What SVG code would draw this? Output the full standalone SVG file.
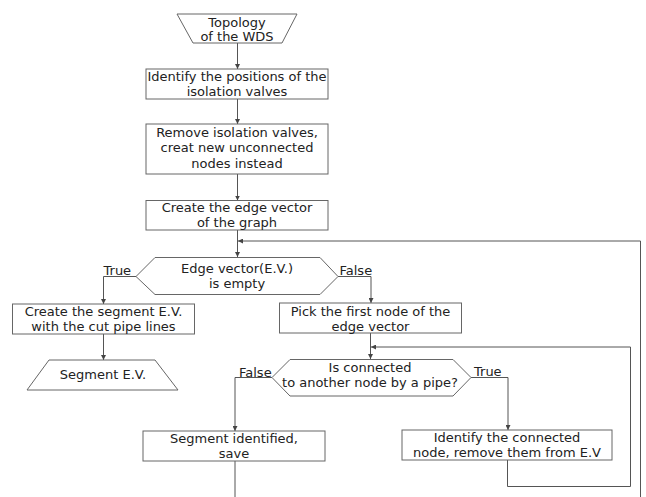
<svg xmlns="http://www.w3.org/2000/svg" width="646" height="497" viewBox="0 0 646 497">
<defs>
<marker id="ah" viewBox="0 0 8 8" refX="8" refY="4" markerWidth="5" markerHeight="5" orient="auto" markerUnits="userSpaceOnUse">
<path d="M0,0 L8,4 L0,8 z" fill="#444"/>
</marker>
<style>
.s{fill:#fff;stroke:#666;stroke-width:1}
.t{font-family:"DejaVu Sans","Verdana",sans-serif;font-size:13px;fill:#222;text-anchor:middle}
.l{font-family:"DejaVu Sans","Verdana",sans-serif;font-size:13px;fill:#222}
.c{fill:none;stroke:#555;stroke-width:1}
.a{marker-end:url(#ah)}
</style>
</defs>
<rect width="646" height="497" fill="#fff"/>
<g id="connectors">
<path class="c a" d="M237.5,43 V69"/>
<path class="c a" d="M237.5,99 V124"/>
<path class="c a" d="M237.5,174 V200.5"/>
<path class="c a" d="M237.5,230 V257"/>
<path class="c a" d="M640.5,497 V241 H238"/>
<path class="c a" d="M136,276.5 H103.5 V304"/>
<path class="c a" d="M338,276.5 H371 V303"/>
<path class="c a" d="M103.5,334 V360"/>
<path class="c a" d="M370.5,333 V359"/>
<path class="c a" d="M507.5,460 V486.5 H630.5 V347 H371"/>
<path class="c a" d="M471,377.5 H508 V430"/>
<path class="c a" d="M272,377.5 H235 V431"/>
<path class="c" d="M235,461 V497"/>
</g>
<g id="topology">
<polygon class="s" points="177,14 297,14 282,43 193,43"/>
<text class="t" x="237" y="26.5">Topology</text>
<text class="t" x="237" y="41">of the WDS</text>
</g>
<g id="identify-positions">
<rect class="s" x="146" y="69" width="182" height="30"/>
<text class="t" x="237" y="80.5">Identify the positions of the</text>
<text class="t" x="237" y="95.5">isolation valves</text>
</g>
<g id="remove-valves">
<rect class="s" x="146" y="124" width="182" height="50"/>
<text class="t" x="237" y="136.5">Remove isolation valves,</text>
<text class="t" x="237" y="152">creat new unconnected</text>
<text class="t" x="237" y="167.5">nodes instead</text>
</g>
<g id="create-edge-vector">
<rect class="s" x="146" y="200.5" width="182" height="29.5"/>
<text class="t" x="237" y="211.5">Create the edge vector</text>
<text class="t" x="237" y="226.5">of the graph</text>
</g>
<g id="ev-empty">
<polygon class="s" points="136,276.5 155,257.5 320,257.5 338,276.5 320,294.5 155,294.5"/>
<text class="t" x="237" y="273">Edge vector(E.V.)</text>
<text class="t" x="237" y="288">is empty</text>
<text class="l" x="103.5" y="274.5">True</text>
<text class="l" x="339.5" y="274.5">False</text>
</g>
<g id="create-segment-ev">
<rect class="s" x="12.5" y="304" width="182" height="30"/>
<text class="t" x="103.5" y="315.5">Create the segment E.V.</text>
<text class="t" x="103.5" y="331">with the cut pipe lines</text>
</g>
<g id="pick-first-node">
<rect class="s" x="279.5" y="303" width="182" height="30"/>
<text class="t" x="370.5" y="315.5">Pick the first node of the</text>
<text class="t" x="370.5" y="331">edge vector</text>
</g>
<g id="segment-ev">
<polygon class="s" points="49,360 155,360 178,390 27,390"/>
<text class="t" x="103" y="379">Segment E.V.</text>
</g>
<g id="is-connected">
<polygon class="s" points="272,377.5 290,359.5 453,359.5 471,377.5 453,396 290,396"/>
<text class="t" x="370" y="371.5">Is connected</text>
<text class="t" x="370" y="387">to another node by a pipe?</text>
<text class="l" x="474" y="375.5">True</text>
<text class="l" x="239" y="376.5">False</text>
</g>
<g id="segment-identified">
<rect class="s" x="143" y="431" width="182" height="30"/>
<text class="t" x="234" y="443">Segment identified,</text>
<text class="t" x="234" y="458">save</text>
</g>
<g id="identify-connected">
<rect class="s" x="402" y="430" width="210" height="30"/>
<text class="t" x="507" y="441.5">Identify the connected</text>
<text class="t" x="507" y="457">node, remove them from E.V</text>
</g>
</svg>
